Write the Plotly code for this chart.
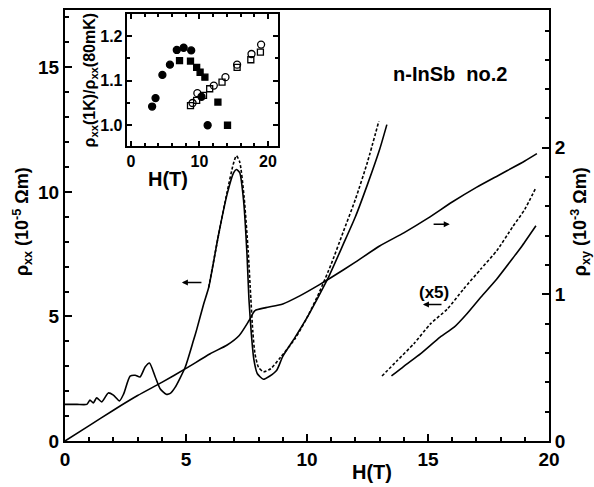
import plotly.graph_objects as go

# ---------------- main panel data ----------------
# rho_xx (solid), left axis, units 1e-5 Ohm m
H_xx_solid = [0, 0.5, 0.9, 1.03, 1.17, 1.31, 1.52, 1.79, 2.0, 2.25, 2.42, 2.69, 2.9, 3.1, 3.31, 3.49,
              3.73, 3.93, 4.18, 4.35, 4.55, 4.97, 5.31, 5.45, 5.73, 5.94, 6.35, 6.7, 6.97, 7.08, 7.22,
              7.38, 7.52, 7.6, 7.7, 7.8, 7.95, 8.2, 8.45, 8.75, 9.0, 9.5, 10.0, 10.5, 10.9, 11.5,
              12.0, 12.5, 13.0, 13.3]
rxx_solid = [1.47, 1.47, 1.47, 1.64, 1.53, 1.73, 1.57, 1.93, 1.84, 1.61, 1.88, 2.6, 2.64, 2.57, 2.97, 3.13,
             2.57, 2.1, 1.88, 1.91, 2.15, 2.97, 4.04, 4.5, 5.5, 6.17, 8.31, 9.91, 10.77, 10.9, 10.77,
             9.64, 7.5, 5.7, 4.3, 3.3, 2.7, 2.48, 2.6, 2.84, 3.4, 4.15, 4.95, 5.85, 6.6, 7.9,
             9.0, 10.3, 11.7, 12.7]

# rho_xx (dashed)
H_xx_dash = [5.94, 6.35, 6.7, 6.95, 7.08, 7.22, 7.4, 7.57, 7.68, 7.76, 7.85, 8.0, 8.2, 8.5, 8.9,
             9.5, 10.0, 10.5, 11.0, 11.5, 12.0, 12.5, 12.97]
rxx_dash = [6.17, 8.3, 10.0, 11.1, 11.45, 11.2, 9.8, 7.6, 5.7, 4.4, 3.5, 2.95, 2.78, 2.9, 3.35,
            4.1, 4.95, 5.95, 7.1, 8.4, 9.7, 11.2, 12.84]

# (x5) branches
H_x5_solid = [13.49, 14.0, 14.7, 15.5, 16.08, 16.6, 17.18, 17.8, 18.53, 18.9, 19.46]
rxx_x5_solid = [2.61, 3.0, 3.51, 4.17, 4.57, 5.1, 5.77, 6.45, 7.37, 7.85, 8.64]
H_x5_dash = [13.1, 13.7, 14.42, 15.1, 15.8, 16.47, 17.18, 17.85, 18.5, 19.0, 19.46]
rxx_x5_dash = [2.61, 3.2, 3.91, 4.7, 5.3, 6.1, 6.9, 7.65, 8.6, 9.3, 10.17]

# rho_xy, right axis, units 1e-3 Ohm m
H_xy = [0, 1, 2, 3, 4, 5, 6, 6.7, 7.2, 7.6, 7.85, 8.3, 9.0, 9.7, 10.5, 11.0, 12.0, 13.0, 14.0,
        15.0, 16.0, 17.0, 18.0, 19.0, 19.5]
rxy = [0, 0.105, 0.21, 0.31, 0.40, 0.495, 0.595, 0.655, 0.72, 0.82, 0.89, 0.91, 0.935, 0.99, 1.065,
       1.115, 1.22, 1.33, 1.42, 1.52, 1.63, 1.73, 1.82, 1.91, 1.96]

# ---------------- inset data ----------------
H_fc = [3.1, 3.6, 4.6, 5.7, 6.7, 7.7, 8.8, 10.3, 11.2]
r_fc = [1.042, 1.061, 1.113, 1.136, 1.169, 1.174, 1.168, 1.064, 1.0]
H_fs = [7.1, 8.7, 9.6, 10.1, 10.8, 12.7, 14.1]
r_fs = [1.145, 1.144, 1.13, 1.119, 1.108, 1.052, 1.0]
H_os = [8.7, 9.6, 10.6, 11.5, 13.3, 15.5, 17.5, 18.9]
r_os = [1.044, 1.056, 1.067, 1.082, 1.097, 1.13, 1.147, 1.164]
H_oc = [9.0, 9.7, 12.1, 13.8, 15.5, 17.6, 19.0]
r_oc = [1.05, 1.072, 1.089, 1.108, 1.136, 1.16, 1.181]

# tick labels
main_x_ticks = [0, 5, 10, 15, 20]
left_y_ticks = [0, 5, 10, 15]
right_y_ticks = [0, 1, 2]
inset_x_ticks = [0, 10, 20]
inset_y_ticks = [1.0, 1.1, 1.2]
inset_y_text = ["1.0", "1.1", "1.2"]

BLACK = "black"
LW = 1.6
DASH = "3px,2px"
SM = 0.6

fig = go.Figure()
fig.add_trace(go.Scatter(x=H_xx_solid, y=rxx_solid, mode="lines",
                         line=dict(color=BLACK, width=LW, shape="spline", smoothing=SM),
                         xaxis="x", yaxis="y", showlegend=False))
fig.add_trace(go.Scatter(x=H_xx_dash, y=rxx_dash, mode="lines",
                         line=dict(color=BLACK, width=LW, dash=DASH, shape="spline", smoothing=SM),
                         xaxis="x", yaxis="y", showlegend=False))
fig.add_trace(go.Scatter(x=H_x5_solid, y=rxx_x5_solid, mode="lines",
                         line=dict(color=BLACK, width=LW, shape="spline", smoothing=SM),
                         xaxis="x", yaxis="y", showlegend=False))
fig.add_trace(go.Scatter(x=H_x5_dash, y=rxx_x5_dash, mode="lines",
                         line=dict(color=BLACK, width=LW, dash=DASH, shape="spline", smoothing=SM),
                         xaxis="x", yaxis="y", showlegend=False))
fig.add_trace(go.Scatter(x=H_xy, y=rxy, mode="lines",
                         line=dict(color=BLACK, width=LW, shape="spline", smoothing=SM),
                         xaxis="x", yaxis="y2", showlegend=False))

mk = dict(size=7, color=BLACK, line=dict(color=BLACK, width=1.3))
fig.add_trace(go.Scatter(x=H_oc, y=r_oc, mode="markers", xaxis="x3", yaxis="y3", showlegend=False,
                         marker=dict(mk, symbol="circle-open", size=7)))
fig.add_trace(go.Scatter(x=H_os, y=r_os, mode="markers", xaxis="x3", yaxis="y3", showlegend=False,
                         marker=dict(mk, symbol="square-open", size=6)))
fig.add_trace(go.Scatter(x=H_fc, y=r_fc, mode="markers", xaxis="x3", yaxis="y3", showlegend=False,
                         marker=dict(mk, symbol="circle", size=7)))
fig.add_trace(go.Scatter(x=H_fs, y=r_fs, mode="markers", xaxis="x3", yaxis="y3", showlegend=False,
                         marker=dict(mk, symbol="square", size=6)))

ax_common = dict(showgrid=False, zeroline=False, showline=True, linecolor=BLACK, ticks="inside",
                 tickcolor=BLACK, tickwidth=1.5)

fig.update_layout(
    width=594, height=487,
    margin=dict(l=65, r=45, t=8, b=46),
    paper_bgcolor="white", plot_bgcolor="rgba(0,0,0,0)",
    font=dict(family="Liberation Sans, Arial, sans-serif", size=19, color=BLACK, weight="bold"),
    xaxis=dict(ax_common, domain=[0, 1], range=[0, 20], tickvals=main_x_ticks, ticklen=7, linewidth=2,
               mirror=True, minor=dict(dtick=1, ticks="inside", ticklen=4, tickcolor=BLACK),
               anchor="y"),
    yaxis=dict(ax_common, domain=[0, 1], range=[0, 17.3], tickvals=left_y_ticks, ticklen=7, linewidth=2,
               minor=dict(dtick=1, ticks="inside", ticklen=4, tickcolor=BLACK), anchor="x"),
    yaxis2=dict(ax_common, overlaying="y", side="right", range=[0, 2.94], tickvals=right_y_ticks,
                ticklen=7, linewidth=2, minor=dict(dtick=0.2, ticks="inside", ticklen=4, tickcolor=BLACK),
                anchor="x"),
    xaxis3=dict(ax_common, domain=[0.129, 0.44], range=[-0.5, 21.46], tickvals=inset_x_ticks, ticklen=5,
                linewidth=1.5, mirror="ticks", anchor="y3", tickfont=dict(size=16),
                minor=dict(dtick=2, ticks="inside", ticklen=3, tickcolor=BLACK)),
    yaxis3=dict(ax_common, domain=[0.684, 0.991], range=[0.953, 1.25], tickvals=inset_y_ticks,
                ticktext=inset_y_text, ticklen=5, linewidth=1.5, mirror="ticks", anchor="x3",
                tickfont=dict(size=16), minor=dict(dtick=0.05, ticks="inside", ticklen=3, tickcolor=BLACK)),
)

ann = []
# axis titles
ann.append(dict(text="ρ<sub>xx</sub> (10<sup>-5</sup> Ωm)", xref="paper", yref="paper", x=-0.089, y=0.51,
                textangle=-90, showarrow=False, font=dict(size=18), xanchor="center", yanchor="middle"))
ann.append(dict(text="ρ<sub>xy</sub> (10<sup>-3</sup> Ωm)", xref="paper", yref="paper", x=1.064, y=0.51,
                textangle=-90, showarrow=False, font=dict(size=18), xanchor="center", yanchor="middle"))
ann.append(dict(text="H(T)", xref="paper", yref="paper", x=0.634, y=-0.072, showarrow=False,
                font=dict(size=20), xanchor="center", yanchor="middle"))
ann.append(dict(text="ρ<sub>xx</sub>(1K)/ρ<sub>xx</sub>(80mK)", xref="paper", yref="paper", x=0.052, y=0.837,
                textangle=-90, showarrow=False, font=dict(size=16), xanchor="center", yanchor="middle"))
ann.append(dict(text="H(T)", xref="paper", yref="paper", x=0.213, y=0.607, showarrow=False,
                font=dict(size=20), xanchor="center", yanchor="middle"))
# labels
ann.append(dict(text="n-InSb  no.2", xref="x", yref="y", x=15.9, y=14.72, showarrow=False,
                font=dict(size=20), xanchor="center", yanchor="middle"))
ann.append(dict(text="(x5)", xref="x", yref="y", x=15.25, y=5.95, showarrow=False,
                font=dict(size=17), xanchor="center", yanchor="middle"))
# arrows
arrow = dict(text="", showarrow=True, arrowhead=2, arrowsize=0.8, arrowwidth=1.5, arrowcolor=BLACK)
ann.append(dict(arrow, xref="x", yref="y", axref="x", ayref="y", x=4.83, y=6.36, ax=5.7, ay=6.36))
ann.append(dict(arrow, xref="x", yref="y", axref="x", ayref="y", x=14.79, y=5.48, ax=15.62, ay=5.48))
ann.append(dict(arrow, xref="x", yref="y2", axref="x", ayref="y2", x=15.9, y=1.478, ax=15.17, ay=1.478))
fig.update_layout(annotations=ann)

fig.write_html("out.html", config={"displayModeBar": False},
               post_script="document.body.style.margin='0';document.body.style.padding='0';")
